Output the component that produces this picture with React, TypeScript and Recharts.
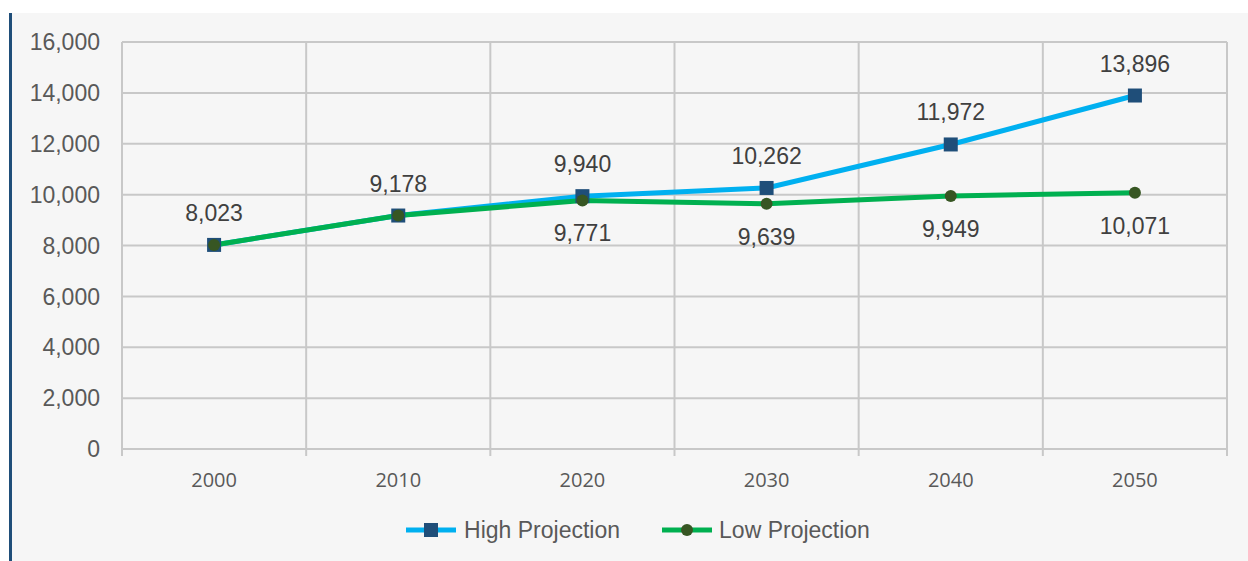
import { LineChart, Line, XAxis, YAxis, CartesianGrid, Legend } from "recharts";

const years = [2000, 2010, 2020, 2030, 2040, 2050];
const highProjection = [8023, 9178, 9940, 10262, 11972, 13896];
const lowProjection = [8023, 9178, 9771, 9639, 9949, 10071];
const yTicks = [0, 2000, 4000, 6000, 8000, 10000, 12000, 14000, 16000];
const gridTicks = [1995, 2005, 2015, 2025, 2035, 2045, 2055];

const data = years.map((year, i) => ({
  year,
  high: highProjection[i],
  low: lowProjection[i],
}));

const HIGH_LINE = "#00b0f0";
const HIGH_MARK = "#1f4e79";
const LOW_LINE = "#00b050";
const LOW_MARK = "#375623";
const GRID = "#c8c8c8";
const FONT = "'Liberation Sans', Arial, sans-serif";

const fmt = (v: number) => v.toLocaleString("en-US");

const SquareDot = (props: any) => {
  const { cx, cy } = props;
  if (cx == null || cy == null) return null;
  return <rect x={cx - 7} y={cy - 7} width={14} height={14} fill={HIGH_MARK} />;
};

const CircleDot = (props: any) => {
  const { cx, cy } = props;
  if (cx == null || cy == null) return null;
  return <circle cx={cx} cy={cy} r={6} fill={LOW_MARK} />;
};

const highLabel = (props: any) => {
  const { x, y, value, index } = props;
  return (
    <text key={`h${index}`} x={x} y={y - 32} textAnchor="middle" dominantBaseline="central"
      fontFamily={FONT} fontSize={23} fill="#404040">
      {fmt(value)}
    </text>
  );
};

const lowLabel = (props: any) => {
  const { x, y, value, index } = props;
  if (index < 2) return <g key={`l${index}`} />;
  return (
    <text key={`l${index}`} x={x} y={y + 33} textAnchor="middle" dominantBaseline="central"
      fontFamily={FONT} fontSize={23} fill="#404040">
      {fmt(value)}
    </text>
  );
};

const LegendContent = () => (
  <div style={{ display: "flex", justifyContent: "center", alignItems: "center", height: 30,
    fontFamily: FONT, fontSize: 23, color: "#595959", paddingLeft: 26 }}>
    <svg width={52} height={16} style={{ marginRight: 7 }}>
      <line x1={1} y1={8} x2={51} y2={8} stroke={HIGH_LINE} strokeWidth={5} />
      <rect x={19} y={1} width={14} height={14} fill={HIGH_MARK} />
    </svg>
    <span style={{ marginRight: 41 }}>High Projection</span>
    <svg width={52} height={16} style={{ marginRight: 6 }}>
      <line x1={1} y1={8} x2={51} y2={8} stroke={LOW_LINE} strokeWidth={5} />
      <circle cx={26} cy={8} r={6} fill={LOW_MARK} />
    </svg>
    <span>Low Projection</span>
  </div>
);

export default function App() {
  return (
    <div style={{ position: "absolute", left: 0, top: 0, width: 1248, height: 561, background: "#ffffff" }}>
      <div style={{ position: "absolute", left: 9, top: 13, width: 3, height: 548, background: HIGH_MARK }} />
      <div style={{ position: "absolute", left: 12, top: 13, width: 1236, height: 548, background: "#f6f6f6" }} />
      <div style={{ position: "absolute", left: 0, top: 0 }}>
        <LineChart width={1248} height={561} data={data}
          margin={{ top: 42, right: 21, left: 22, bottom: 16 }}>
          <CartesianGrid stroke={GRID} strokeWidth={2} />
          <XAxis xAxisId={0} dataKey="year" type="number" domain={[1995, 2055]} ticks={gridTicks}
            tickFormatter={() => ""} height={8} tickSize={7}
            axisLine={{ stroke: GRID, strokeWidth: 2 }} tickLine={{ stroke: GRID, strokeWidth: 2 }} />
          <XAxis xAxisId="labels" dataKey="year" type="number" domain={[1995, 2055]} ticks={years}
            height={58} axisLine={false} tickLine={false} tickSize={0} tickMargin={16}
            tick={{ fontFamily: "'Open Sans', sans-serif", fontSize: 20, fill: "#595959" }} />
          <YAxis domain={[0, 16000]} ticks={yTicks} width={100} axisLine={false} tickLine={false}
            tickMargin={16} tickFormatter={fmt}
            tick={{ fontFamily: FONT, fontSize: 23, fill: "#595959" }} />
          <Legend verticalAlign="bottom" content={<LegendContent />} />
          <Line xAxisId={0} dataKey="high" stroke={HIGH_LINE} strokeWidth={5} dot={<SquareDot />}
            activeDot={false} label={highLabel} isAnimationActive={false} />
          <Line xAxisId={0} dataKey="low" stroke={LOW_LINE} strokeWidth={5} dot={<CircleDot />}
            activeDot={false} label={lowLabel} isAnimationActive={false} />
        </LineChart>
      </div>
    </div>
  );
}
